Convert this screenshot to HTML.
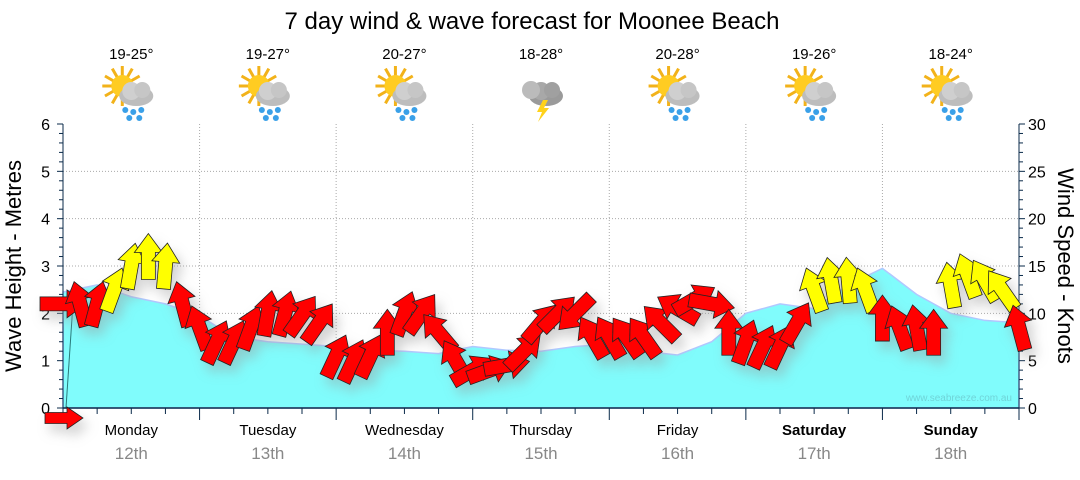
<!DOCTYPE html>
<html><head><meta charset="utf-8"><style>
html,body{margin:0;padding:0;background:#fff;}
body{width:1080px;height:475px;overflow:hidden;font-family:"Liberation Sans",sans-serif;}
</style></head><body>
<svg id="chart" width="1080" height="475" viewBox="0 0 1080 475" xmlns="http://www.w3.org/2000/svg" font-family="Liberation Sans, sans-serif">
<defs>
<filter id="shadow" x="-30%" y="-30%" width="160%" height="160%">
<feGaussianBlur in="SourceAlpha" stdDeviation="6"/>
<feOffset dx="5" dy="8" result="b"/>
<feFlood flood-color="#999" flood-opacity="0.45"/>
<feComposite in2="b" operator="in" result="s"/>
<feMerge><feMergeNode in="s"/><feMergeNode in="SourceGraphic"/></feMerge>
</filter>
</defs>
<text x="532" y="29" font-size="24" text-anchor="middle" fill="#000">7 day wind &amp; wave forecast for Moonee Beach</text>
<g id="grid"></g>
<path id="wave" fill="#80fcfc" stroke="#b0c8ff" stroke-width="1.5"></path>
<text x="1012" y="401" font-size="10" text-anchor="end" fill="#70d4d8">www.seabreeze.com.au</text>
<line x1="66" y1="408" x2="73" y2="303" stroke="#2a7a7a" stroke-width="1"/>
<g id="axes"></g>
<g id="icons"></g>
<g id="arrows" filter="url(#shadow)"></g>
<text transform="translate(21,266) rotate(-90)" font-size="22" text-anchor="middle">Wave Height - Metres</text>
<text transform="translate(1058,266) rotate(90)" font-size="22" text-anchor="middle">Wind Speed - Knots</text>
</svg>
<script>
const days=["Monday","Tuesday","Wednesday","Thursday","Friday","Saturday","Sunday"];
const dates=["12th","13th","14th","15th","16th","17th","18th"];
const temps=["19-25°","19-27°","20-27°","18-28°","20-28°","19-26°","18-24°"];
const icons=["rain","rain","rain","storm","rain","rain","rain"];
const waveTicks=[0,1,2,3,4,5,6];
const windTicks=[0,5,10,15,20,25,30];
const waveHeights=[2.45,2.6,2.35,2.2,1.95,1.5,1.4,1.35,1.3,1.22,1.2,1.15,1.3,1.22,1.2,1.3,1.35,1.2,1.12,1.4,2.0,2.2,2.1,2.6,2.95,2.4,2.0,1.85,1.8];
const windSpeeds=[11,11,11,12.5,15,16,15,11,8.5,7,7,8.5,10,10,9.8,9,5.5,5,5.5,8,10,10,8,5,4,4,4.5,6,9,10,10,7.5,7.5,7.5,7.5,9,10.5,11.5,11,8,7,6.5,6.5,9,12.5,13.5,13.5,12.5,9.5,8.5,8.5,8,13,14,13.5,12.5,8.5];
const windDirs=[90,-15,15,20,10,0,5,-15,-20,25,25,20,10,15,35,35,25,25,25,0,20,35,-40,-30,60,70,80,45,40,45,225,-30,-30,-35,-35,-45,-60,60,100,0,20,25,25,30,-20,-10,-5,-20,0,-20,-10,0,-10,-20,-30,-35,-15];
const X0=63,X1=1019,Y0=408,YT=124,NS="http://www.w3.org/2000/svg";
const dayW=(X1-X0)/7;
const xHour=h=>X0+h/168*(X1-X0);
const yWave=h=>Y0-h/6*(Y0-YT);
const yWind=k=>Y0-k/30*(Y0-YT);
function mk(tag,attrs,parent){const e=document.createElementNS(NS,tag);for(const k in attrs)e.setAttribute(k,attrs[k]);parent.appendChild(e);return e;}
const grid=document.getElementById('grid'),axes=document.getElementById('axes');
waveTicks.forEach(t=>{if(t>0&&t<6){const l=mk('line',{x1:X0,x2:X1,y1:yWave(t),y2:yWave(t),stroke:'#aaa','stroke-dasharray':'1,2'},grid);}});
for(let d=1;d<7;d++){const l=mk('line',{x1:X0+d*dayW,x2:X0+d*dayW,y1:YT,y2:Y0,stroke:'#aaa','stroke-dasharray':'1,2'},grid);}
let p=`M${xHour(0)},${Y0}`;waveHeights.forEach((h,i)=>{p+=` L${xHour(i*6)},${yWave(h)}`});p+=` L${xHour(168)},${Y0} Z`;
document.getElementById('wave').setAttribute('d',p);
const ac='#0a2a4a';
mk('line',{x1:X0,x2:X0,y1:YT,y2:Y0,stroke:ac},axes);
mk('line',{x1:X1,x2:X1,y1:YT,y2:Y0,stroke:ac},axes);
mk('line',{x1:X0,x2:X1,y1:Y0,y2:Y0,stroke:ac,'stroke-width':1.5},axes);
for(let i=0;i<=30;i++){const y=Y0-i*(Y0-YT)/30;mk('line',{x1:X0-(i%5?4:6),x2:X0,y1:y,y2:y,stroke:ac},axes);}
for(let i=0;i<=30;i++){const y=yWind(i);mk('line',{x1:X1,x2:X1+(i%5?4:6),y1:y,y2:y,stroke:ac},axes);}
waveTicks.forEach(t=>{const e=mk('text',{x:50,y:yWave(t)+6,'font-size':16,'text-anchor':'end'},axes);e.textContent=t;});
windTicks.forEach(t=>{const e=mk('text',{x:1028,y:yWind(t)+6,'font-size':16},axes);e.textContent=t;});
for(let h=0;h<=168;h+=6){const x=xHour(h);const big=h%24===0;mk('line',{x1:x,x2:x,y1:Y0,y2:Y0+(big?12:6),stroke:ac},axes);}
days.forEach((d,i)=>{const cx=X0+(i+0.5)*dayW;const wk=i>=5;
const a=mk('text',{x:cx,y:435,'font-size':15,'text-anchor':'middle','font-weight':wk?'bold':'normal'},axes);a.textContent=d;
const b=mk('text',{x:cx,y:459,'font-size':17,'text-anchor':'middle',fill:'#888'},axes);b.textContent=dates[i];
const t=mk('text',{x:cx,y:59,'font-size':15,'text-anchor':'middle'},axes);t.textContent=temps[i];});
const ig=document.getElementById('icons');
icons.forEach((k,i)=>{const cx=X0+(i+0.5)*dayW,cy=92;const g=mk('g',{transform:`translate(${cx},${cy})`},ig);

if(k==='rain'){for(let r=0;r<12;r++){const a=r*Math.PI/6;mk('line',{x1:-9+Math.cos(a)*10,y1:-6+Math.sin(a)*10,x2:-9+Math.cos(a)*20,y2:-6+Math.sin(a)*20,stroke:'#f2b21a','stroke-width':3},g);}
mk('circle',{cx:-9,cy:-6,r:11,fill:'#ffcc22'},g);}
mk('ellipse',{cx:5,cy:4,rx:17,ry:10,fill:k==='storm'?'#9a9a9a':'#bdbdbd'},g);
mk('circle',{cx:0,cy:-1,r:9,fill:k==='storm'?'#a8a8a8':'#cfcfcf'},g);
mk('circle',{cx:11,cy:-2,r:8,fill:k==='storm'?'#a0a0a0':'#c6c6c6'},g);
if(k==='storm'){mk('circle',{cx:-10,cy:-2,r:9,fill:'#bbb'},g);mk('polygon',{points:'2,8 -4,20 1,20 -3,30 8,16 3,16 7,8',fill:'#ffd21a'},g);}
else{[[-6,18],[2,20],[10,18],[-2,26],[8,26]].forEach(q=>mk('circle',{cx:q[0],cy:q[1],r:3,fill:'#3aa0e8'},g));}
});
const ag=document.getElementById('arrows');
const shape='-7,23 7,23 7,-4 14,-4 0,-23 -14,-4 -7,-4';
windSpeeds.forEach((s,i)=>{const x=xHour(i*3),y=yWind(s);
const a=mk('polygon',{points:shape,transform:`translate(${x},${y}) rotate(${windDirs[i]})`,fill:s>=12?'#ffff00':'#ff0000',stroke:'#222','stroke-width':0.8},ag);
});
const z=mk('polygon',{points:'-5.5,19 5.5,19 5.5,-3 11,-3 0,-19 -11,-3 -5.5,-3',transform:`translate(64,418) rotate(90)`,fill:'#ff0000',stroke:'#222','stroke-width':0.8},ag);

</script>
</body></html>
